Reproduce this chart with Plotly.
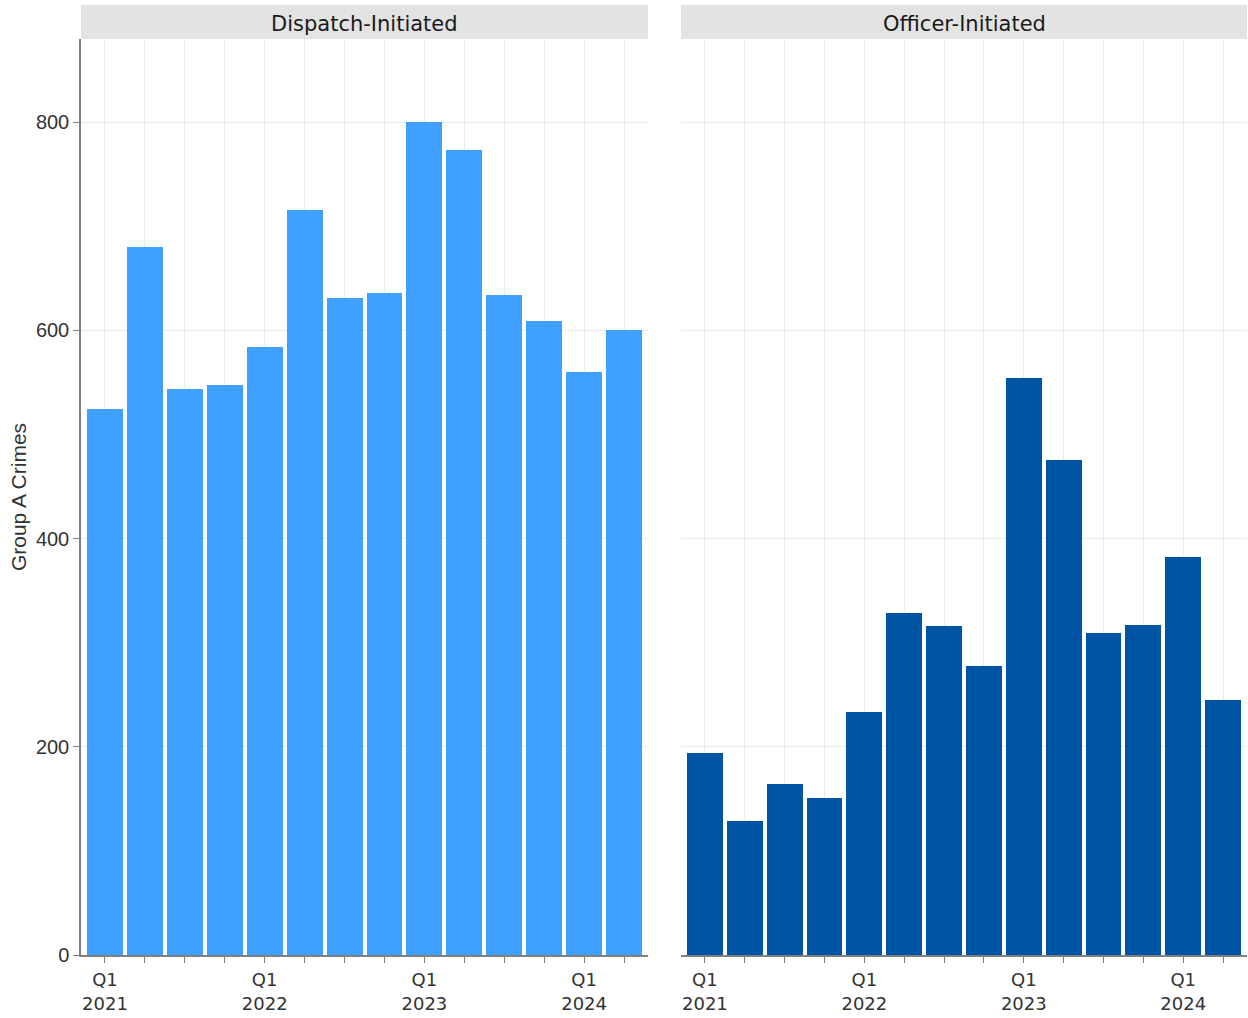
import plotly.graph_objects as go

# Quarterly Group A crimes, Q1 2021 .. Q2 2024
QUARTERS = ["2021 Q1", "2021 Q2", "2021 Q3", "2021 Q4",
            "2022 Q1", "2022 Q2", "2022 Q3", "2022 Q4",
            "2023 Q1", "2023 Q2", "2023 Q3", "2023 Q4",
            "2024 Q1", "2024 Q2"]
DISPATCH = [525, 680, 544, 548, 584, 716, 631, 636, 800, 773, 634, 609, 560, 600]
OFFICER = [194, 129, 164, 151, 233, 329, 316, 278, 554, 476, 309, 317, 382, 245]

PANELS = ["Dispatch-Initiated", "Officer-Initiated"]
COLORS = ["#3FA0FF", "#0054A4"]

TICK_LABELS = [f"Q1<br>{q[:4]}" if q.endswith("Q1") else "" for q in QUARTERS]

W, H = 1248, 1018
M_L, M_R, M_T, M_B = 81, 1, 39, 63
plot_w = W - M_L - M_R
plot_h = H - M_T - M_B
left_dom = [0, 567 / plot_w]
right_dom = [600 / plot_w, 1]

x_pos = list(range(len(QUARTERS)))

fig = go.Figure()
for i, (vals, color) in enumerate(zip([DISPATCH, OFFICER], COLORS)):
    fig.add_trace(
        go.Bar(
            x=x_pos,
            y=vals,
            width=0.9,
            marker=dict(color=color, line=dict(width=0)),
            customdata=QUARTERS,
            hovertemplate="%{customdata}<br>%{y}<extra></extra>",
            xaxis="x" if i == 0 else "x2",
            yaxis="y" if i == 0 else "y2",
            showlegend=False,
        )
    )

grid = "rgba(235,235,235,1)"
axis_font = dict(family="DejaVu Sans", size=18, color="#333333")
xcommon = dict(
    range=[-0.6, len(QUARTERS) - 0.4],
    tickmode="array",
    tickvals=x_pos,
    ticktext=TICK_LABELS,
    ticks="outside",
    ticklen=6,
    tickcolor="#7f7f7f",
    ticklabelstandoff=2,
    showline=True,
    linecolor="#7f7f7f",
    linewidth=1.5,
    showgrid=True,
    gridcolor=grid,
    zeroline=False,
    tickfont=axis_font,
)
ycommon = dict(
    range=[0, 880],
    tickvals=[0, 200, 400, 600, 800],
    showgrid=True,
    gridcolor=grid,
    zeroline=False,
)

fig.update_layout(
    width=W,
    height=H,
    margin=dict(l=M_L, r=M_R, t=M_T, b=M_B),
    plot_bgcolor="white",
    paper_bgcolor="white",
    bargap=0,
    font=dict(family="Liberation Sans", size=14, color="#333333"),
    xaxis=dict(domain=left_dom, anchor="y", **xcommon),
    xaxis2=dict(domain=right_dom, anchor="y2", **xcommon),
    yaxis=dict(
        domain=[0, 1],
        anchor="x",
        ticks="outside",
        ticklen=6,
        tickcolor="#7f7f7f",
        showline=True,
        linecolor="#7f7f7f",
        linewidth=1.5,
        tickfont=dict(family="Liberation Sans", size=20, color="#333333"),
        title=dict(text="Group A Crimes", standoff=4,
                   font=dict(family="Liberation Sans", size=21, color="#333333")),
        **ycommon,
    ),
    yaxis2=dict(
        domain=[0, 1],
        anchor="x2",
        matches="y",
        showticklabels=False,
        showline=False,
        ticks="",
        **ycommon,
    ),
)

# Facet strips
strip_top = 1 + (M_T - 5) / plot_h
for dom, label in zip([left_dom, right_dom], PANELS):
    fig.add_shape(
        type="rect",
        xref="paper", yref="paper",
        x0=dom[0], x1=dom[1], y0=1, y1=strip_top,
        fillcolor="#E3E3E3", line=dict(width=0), layer="below",
    )
    fig.add_annotation(
        text=label,
        xref="paper", yref="paper",
        x=(dom[0] + dom[1]) / 2, y=(1 + strip_top) / 2,
        xanchor="center", yanchor="middle",
        yshift=-2,
        showarrow=False,
        font=dict(family="DejaVu Sans", size=21, color="#1a1a1a"),
    )

fig.write_html(
    "out.html",
    config={"displayModeBar": False},
    post_script="document.body.style.margin='0';",
)
